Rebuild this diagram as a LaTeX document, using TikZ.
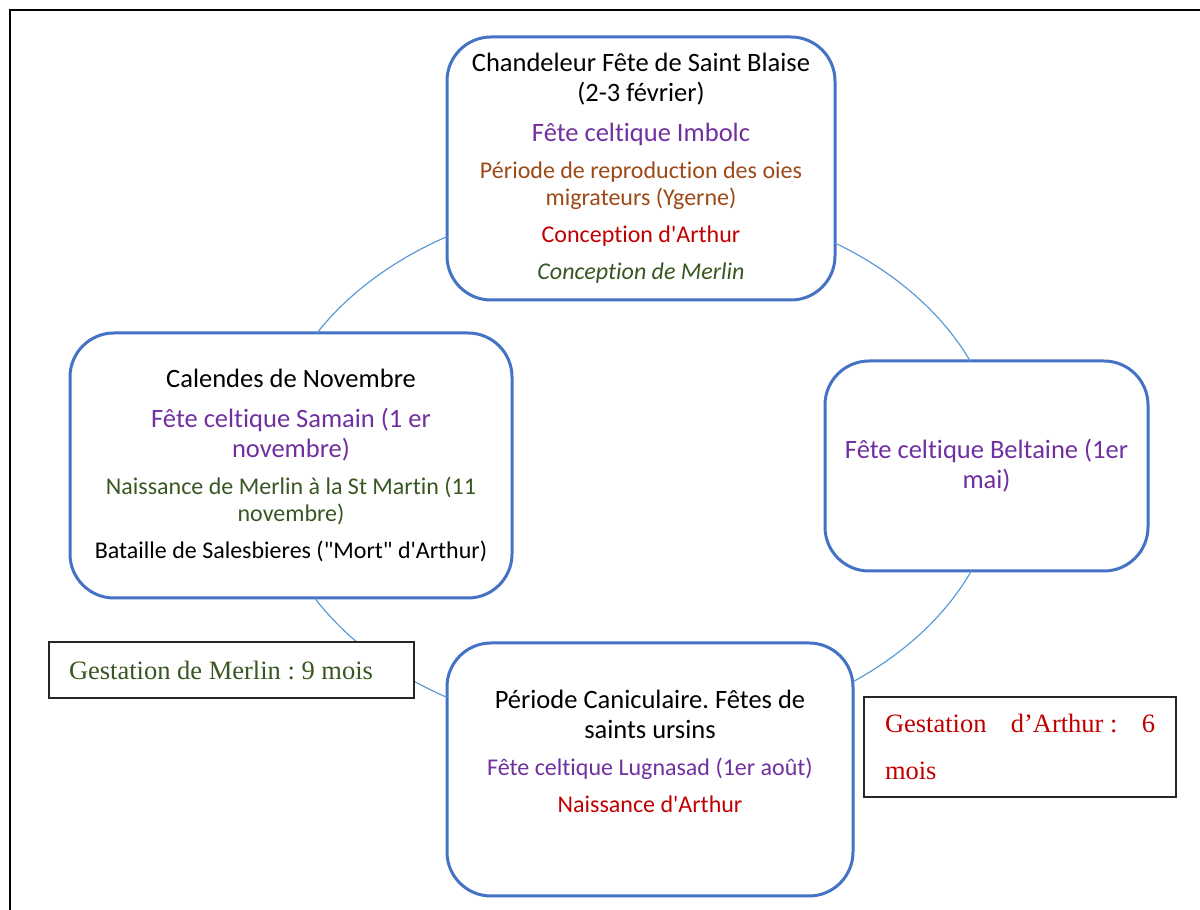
\documentclass[tikz,border=0pt]{standalone}
\usepackage{fontspec}
\setmainfont{Carlito}[Ligatures={TeX,NoCommon}]
\newfontfamily\tnr{Liberation Serif}
\definecolor{cbox}{HTML}{4472C4}
\definecolor{clink}{HTML}{5B9BD5}
\definecolor{cpurple}{HTML}{7030A0}
\definecolor{cbrown}{HTML}{9C4A17}
\definecolor{cred}{HTML}{C00000}
\definecolor{cgreen}{HTML}{385723}
\newcommand\fbig{\fontsize{13.25pt}{15pt}\selectfont}
\newcommand\fsmall{\fontsize{12pt}{13.5pt}\selectfont}
\newcommand\ap{\textquotesingle}
\newcommand\dq{\textquotedbl}
\tikzset{
  cyclebox/.style={draw=cbox, line width=1.5pt, rounded corners=22pt, fill=white,
    align=flush center, inner xsep=5pt, inner ysep=0pt, outer sep=0pt, font=\fbig},
  link/.style={draw=clink, line width=0.6pt},
  gestbox/.style={draw=black!85, line width=0.6pt, fill=white, align=flush left,
    inner ysep=0pt, outer sep=0pt, font=\tnr\fontsize{13.25pt}{16pt}\selectfont},
}
\begin{document}
\frenchspacing
\begin{tikzpicture}[x=0.5pt, y=0.5pt]
\useasboundingbox (0,0) rectangle (1200,910);
\begin{scope}
  \clip (0,0) rectangle (1200,910);
  \draw[line width=1pt] (9.5,-10) rectangle (1210,900);
\end{scope}

\node[cyclebox, minimum width=194pt, minimum height=131.5pt, text width=184pt] (ntop) at (641,741.5)
 {Chandeleur Fête de Saint Blaise\par (2-3 février)\par\vspace{5pt}%
  {\color{cpurple}Fête celtique Imbolc\par}\vspace{5pt}%
  {\fsmall\color{cbrown}Période de reproduction des oies\par migrateurs (Ygerne)\par}\vspace{5pt}%
  {\fsmall\color{cred}Conception d\ap Arthur\par}\vspace{5pt}%
  {\fsmall\itshape\color{cgreen}Conception de Merlin\par}};

\node[cyclebox, minimum width=221pt, minimum height=132.5pt, text width=211pt] (nleft) at (291,444.5)
 {Calendes de Novembre\par\vspace{5pt}%
  {\color{cpurple}Fête celtique Samain (1 er\par novembre)\par}\vspace{5pt}%
  {\fsmall\color{cgreen}Naissance de Merlin à la St Martin (11\par novembre)\par}\vspace{5pt}%
  {\fsmall Bataille de Salesbieres (\dq Mort\dq\ d\ap Arthur)\par}};

\node[cyclebox, minimum width=161.5pt, minimum height=105pt, text width=151.5pt] (nright) at (986.5,444)
 {{\color{cpurple}Fête celtique Beltaine (1er\par mai)\par}};

\node[cyclebox, minimum width=203pt, minimum height=126.5pt, text width=193pt] (nbottom) at (650,140.5)
 {Période Caniculaire. Fêtes de\par saints ursins\par\vspace{5pt}%
  {\fsmall\color{cpurple}Fête celtique Lugnasad (1er août)\par}\vspace{5pt}%
  {\fsmall\color{cred}Naissance d\ap Arthur\par}\vskip3pt\hbox{}};

\draw[link] ([yshift=-34.05pt]ntop.west) arc[start angle=120.72, end angle=150, x radius=183pt, y radius=134pt];
\draw[link] ([yshift=-37.25pt]ntop.east) arc[start angle=56.69, end angle=23.30, x radius=183pt, y radius=134pt];
\draw[link] ([xshift=-7.6pt]nright.south) arc[start angle=-22.83, end angle=-53.25, x radius=183pt, y radius=134pt];
\draw[link] ([yshift=36.05pt]nbottom.west) arc[start angle=-120.72, end angle=-150.74, x radius=183pt, y radius=134pt];

\node[gestbox, minimum width=182.5pt, minimum height=28pt, text width=162.5pt, inner xsep=10pt, text=cgreen] (gm) at (231.5,240)
 {Gestation de Merlin : 9 mois};
\node[gestbox, minimum width=156pt, minimum height=50pt, text width=135pt, inner xsep=10.5pt, text=cred,
      font=\tnr\fontsize{13.25pt}{23.3pt}\selectfont] (ga) at (1020,163)
 {Gestation\hfill d’Arthur~:\hfill 6\\mois};
\end{tikzpicture}
\end{document}
